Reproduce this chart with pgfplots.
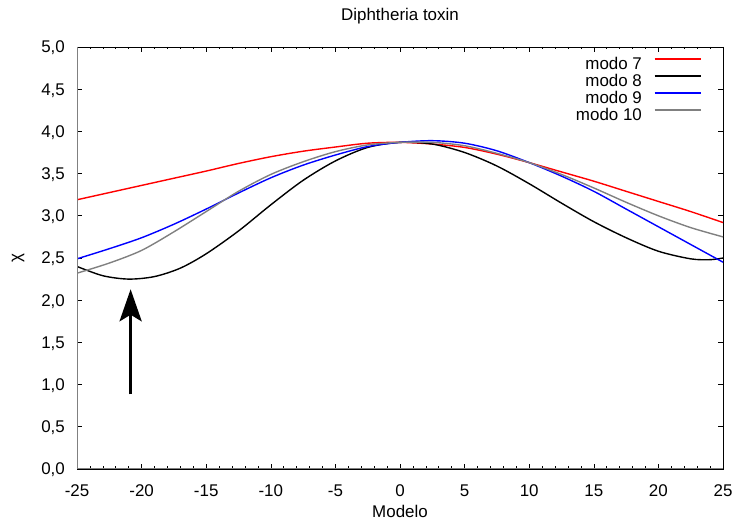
\documentclass[border=0pt]{standalone}
\usepackage{fontspec}
\setmainfont{Liberation Sans}
\usepackage{pgfplots}
\pgfplotsset{compat=1.18}
\usetikzlibrary{arrows.meta}

\definecolor{mgray}{RGB}{128,128,128}
\newcommand{\lblfont}{\fontsize{17}{19}\selectfont}

\begin{document}
\begin{tikzpicture}[x=1bp,y=1bp]
\useasboundingbox (-77,-52) rectangle (661,469);
\begin{axis}[
  at={(0,0)}, anchor=south west,
  scale only axis,
  width=646bp, height=422bp,
  xmin=-25, xmax=25, ymin=0, ymax=5,
  xtick={-25,-20,...,25},
  ytick={0,0.5,...,5},
  minor x tick num=4,
  tick align=inside,
  major tick length=5bp,
  minor tick length=2.5bp,
  every tick/.style={black, line width=0.6bp},
  axis line style={black, line width=0.8bp},
  /pgf/number format/assume math mode=true,
  yticklabel style={/pgf/number format/fixed, /pgf/number format/fixed zerofill,
    /pgf/number format/precision=1, /pgf/number format/use comma,
    anchor=base east, inner sep=0pt, xshift=-12bp, yshift=-6bp},
  xticklabel style={/pgf/number format/fixed,
    anchor=base, inner sep=0pt, yshift=-28bp},
  tick label style={font=\lblfont},
  title={Diphtheria toxin},
  title style={font=\lblfont, at={(axis description cs:0.5,1)}, anchor=base,
    inner sep=0pt, yshift=21bp},
  xlabel={Modelo},
  xlabel style={font=\lblfont, at={(axis description cs:0.5,0)}, anchor=base,
    inner sep=0pt, yshift=-49bp},
  ylabel={χ},
  ylabel style={font=\lblfont, at={(axis description cs:-0.0913,0.5)}, anchor=center,
    inner sep=0pt},
  legend style={draw=none, fill=none, at={(rel axis cs:0.967,0.975)}, anchor=north east,
    font=\lblfont, inner sep=0pt, row sep=5bp, column sep=12bp,
    nodes={inner sep=0pt, text height=12bp, text depth=0bp}},
  legend cell align=right,
  legend plot pos=right,
  legend image code/.code={\draw[#1, line width=1.6bp] (0bp,4.5bp) -- (46bp,4.5bp);},
  every axis plot/.append style={line width=1.4bp, smooth, no marks},
]
\addplot[red] coordinates {
(-25,3.19) (-22.5,3.275) (-20,3.36) (-17.5,3.445) (-15,3.53) (-12.5,3.62) (-10,3.70)
(-7.5,3.765) (-5,3.815) (-2.5,3.86) (0,3.87) (2.5,3.85) (5,3.81) (7.5,3.73)
(10,3.63) (12.5,3.52) (15,3.41) (17.5,3.29) (20,3.17) (22.5,3.05) (25,2.92)};
\addlegendentry{modo 7}
\addplot[black] coordinates {
(-25,2.40) (-23,2.29) (-21,2.25) (-19,2.28) (-17,2.38) (-15,2.55) (-12.5,2.82)
(-10,3.13) (-7.5,3.42) (-5,3.65) (-2.5,3.81) (0,3.87) (2.5,3.85) (5,3.75)
(7.5,3.59) (10,3.38) (12.5,3.15) (15,2.93) (17.5,2.74) (20,2.58) (22.5,2.49)
(24,2.48) (25,2.50)};
\addlegendentry{modo 8}
\addplot[blue] coordinates {
(-25,2.49) (-22.5,2.61) (-20,2.74) (-17.5,2.90) (-15,3.08) (-12.5,3.27) (-10,3.45)
(-7.5,3.60) (-5,3.72) (-2.5,3.82) (0,3.87) (2.5,3.89) (5,3.86) (7.5,3.77)
(10,3.63) (12.5,3.47) (15,3.29) (17.5,3.08) (20,2.87) (22.5,2.66) (25,2.45)};
\addlegendentry{modo 9}
\addplot[mgray] coordinates {
(-25,2.32) (-22.5,2.44) (-20,2.59) (-17.5,2.81) (-15,3.05) (-12.5,3.29) (-10,3.49)
(-7.5,3.64) (-5,3.76) (-2.5,3.84) (0,3.87) (2.5,3.87) (5,3.83) (7.5,3.74)
(10,3.63) (12.5,3.49) (15,3.33) (17.5,3.16) (20,3.00) (22.5,2.86) (25,2.75)};
\addlegendentry{modo 10}
% left and bottom frame lines in gray
\draw[mgray, line width=1bp] (rel axis cs:0,1) -- (rel axis cs:0,0) -- (rel axis cs:1,0);
% arrow marking the minimum of mode 8
\draw[black, line width=3.5bp, -{Stealth[length=32bp, width=22bp, inset=6.5bp]}]
  (axis cs:-20.85,0.885) -- (axis cs:-20.85,2.13);
\end{axis}
\end{tikzpicture}
\end{document}
